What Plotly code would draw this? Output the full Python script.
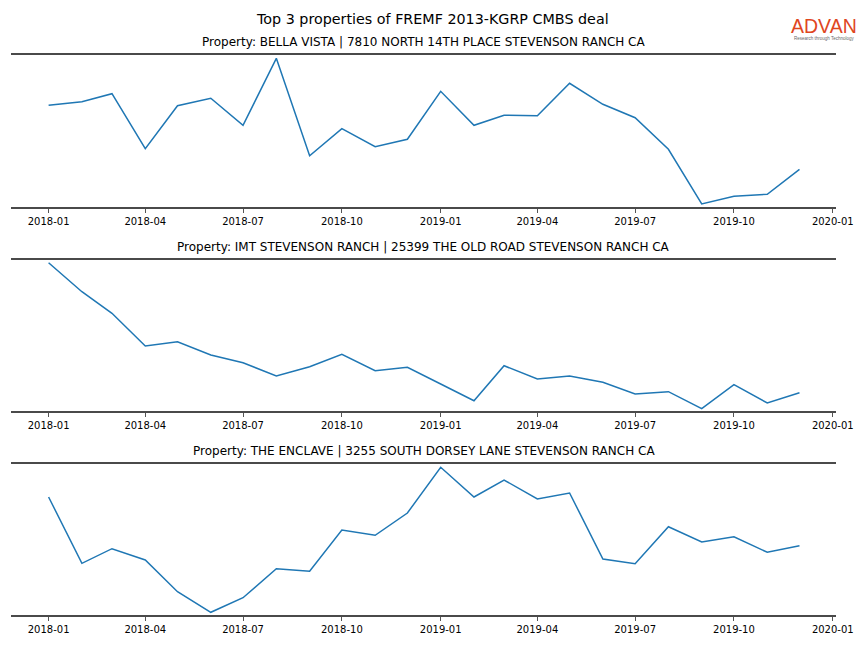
import plotly.graph_objects as go

months = ["2018-01-01", "2018-02-01", "2018-03-01", "2018-04-01", "2018-05-01", "2018-06-01",
          "2018-07-01", "2018-08-01", "2018-09-01", "2018-10-01", "2018-11-01", "2018-12-01",
          "2019-01-01", "2019-02-01", "2019-03-01", "2019-04-01", "2019-05-01", "2019-06-01",
          "2019-07-01", "2019-08-01", "2019-09-01", "2019-10-01", "2019-11-01", "2019-12-01"]

titles = [
    "Property: BELLA VISTA | 7810 NORTH 14TH PLACE STEVENSON RANCH CA",
    "Property: IMT STEVENSON RANCH | 25399 THE OLD ROAD STEVENSON RANCH CA",
    "Property: THE ENCLAVE | 3255 SOUTH DORSEY LANE STEVENSON RANCH CA",
]

bella_vista = [101.7, 105.3, 113.3, 58.3, 101.3, 108.7, 81.7, 148.7, 51.3, 78.3, 60.3, 67.7,
               115.7, 81.7, 91.7, 91.3, 123.7, 102.7, 89.3, 57.7, 3.0, 10.7, 12.7, 37.7]
imt_stevenson = [148.3, 119.3, 97.7, 65.0, 69.3, 56.0, 48.3, 35.0, 44.3, 56.7, 40.3, 43.7,
                 27.0, 10.3, 45.3, 32.0, 35.0, 28.7, 17.0, 19.3, 2.3, 26.3, 8.0, 18.3]
the_enclave = [118.0, 51.7, 66.3, 55.0, 23.3, 2.7, 17.3, 46.3, 43.7, 85.0, 79.7, 102.0,
               147.7, 118.0, 135.0, 116.0, 122.0, 56.0, 51.3, 88.3, 73.0, 78.3, 62.7, 69.3]

series = [bella_vista, imt_stevenson, the_enclave]
y_ranges = [[0, 152], [0, 151], [0, 151]]

W, H = 864, 648
# pixel positions of each panel (top spine, bottom spine)
panels_px = [(55, 207), (260, 411), (464, 615)]
x_left, x_right = 11, 836

fig = go.Figure()
annotations = []
for i, (vals, (top, bot)) in enumerate(zip(series, panels_px)):
    n = "" if i == 0 else str(i + 1)
    fig.add_trace(go.Scatter(x=months, y=vals, mode="lines",
                             line=dict(color="#1f77b4", width=1.5),
                             xaxis="x" + n, yaxis="y" + n, showlegend=False))
    fig.update_layout(**{
        "xaxis" + n: dict(
            domain=[x_left / W, x_right / W], anchor="y" + n, type="date",
            range=["2017-11-27", "2020-01-04"], automargin=False,
            tick0="2018-01-01", dtick="M3", tickformat="%Y-%m",
            showgrid=False, zeroline=False,
            showline=True, linecolor="#4a4a4a", linewidth=2, mirror=True,
            ticks="outside", ticklen=4, tickcolor="#555555", tickwidth=1,
            tickfont=dict(family="DejaVu Sans", size=10, color="#000000"),
        ),
        "yaxis" + n: dict(
            domain=[1 - bot / H, 1 - top / H], anchor="x" + n, automargin=False,
            range=y_ranges[i], visible=False, showgrid=False, zeroline=False,
        ),
    })
    annotations.append(dict(
        text=titles[i], xref="paper", yref="paper",
        x=(x_left + x_right) / 2 / W, y=1 - (top - 13) / H,
        xanchor="center", yanchor="middle", showarrow=False,
        font=dict(family="DejaVu Sans", size=12, color="#000000"),
    ))

annotations.append(dict(
    text="Top 3 properties of FREMF 2013-KGRP CMBS deal", xref="paper", yref="paper",
    x=432 / W, y=1 - 19 / H, xanchor="center", yanchor="middle", showarrow=False,
    font=dict(family="DejaVu Sans", size=14.3, color="#000000"),
))
annotations.append(dict(
    text="ADVAN", xref="paper", yref="paper",
    x=824 / W, y=1 - 26 / H, xanchor="center", yanchor="middle", showarrow=False,
    font=dict(family="Liberation Sans", size=19.5, color="#E0461E"),
))
annotations.append(dict(
    text="Research through Technology", xref="paper", yref="paper",
    x=824 / W, y=1 - 38.5 / H, xanchor="center", yanchor="middle", showarrow=False,
    font=dict(family="Liberation Sans", size=4.5, color="#666666"),
))

fig.update_layout(
    width=W, height=H, autosize=False,
    margin=dict(l=0, r=0, t=0, b=0, pad=0),
    paper_bgcolor="white", plot_bgcolor="white",
    annotations=annotations,
)

fig.write_html(
    "out.html",
    config={"responsive": False, "displayModeBar": False},
    post_script="document.body.style.margin='0';document.body.style.overflow='hidden';",
)
